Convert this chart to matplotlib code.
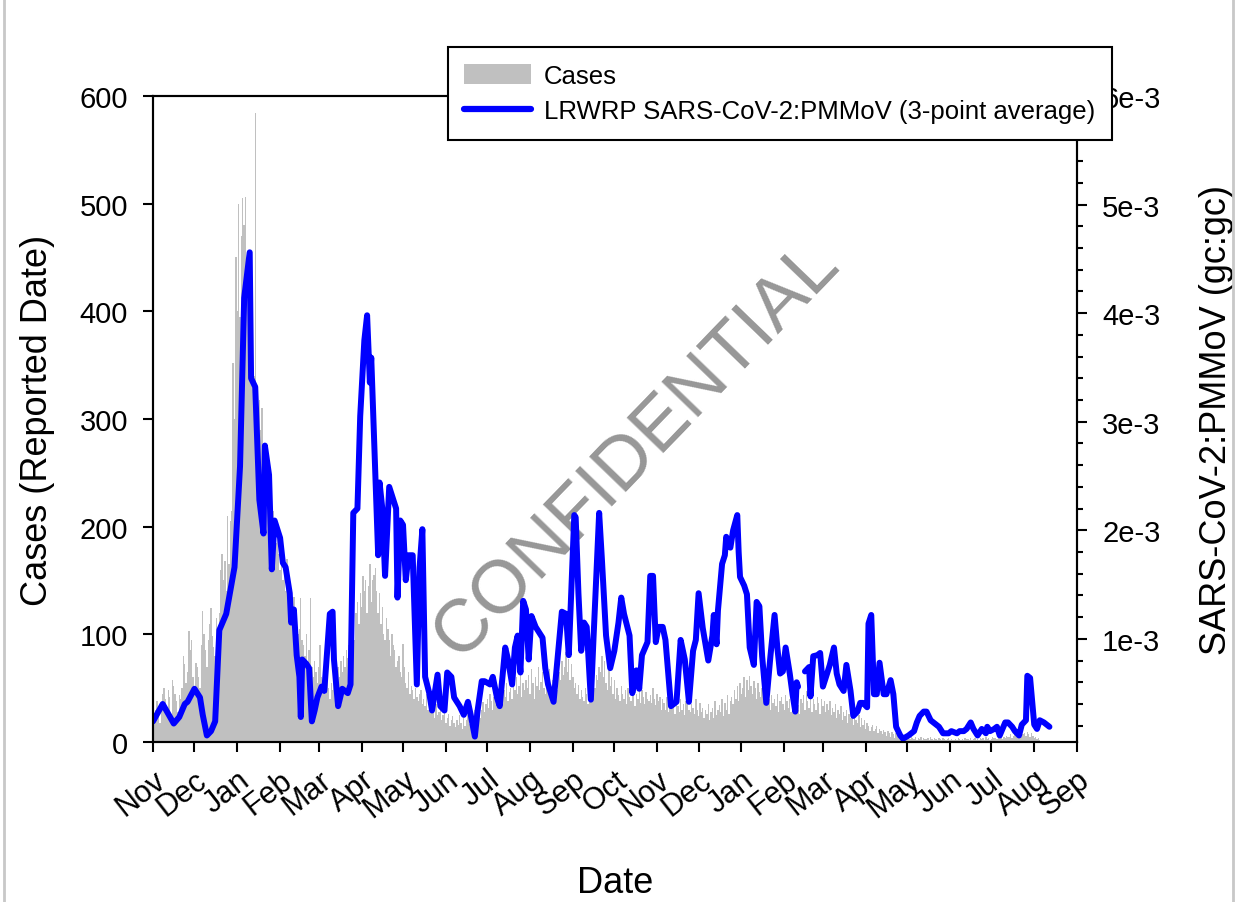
import numpy as np
import matplotlib
matplotlib.use('Agg')
import matplotlib.pyplot as plt
import matplotlib.dates as mdates
from matplotlib.ticker import MultipleLocator, FuncFormatter
from matplotlib.lines import Line2D
from matplotlib.patches import Patch

plt.rcParams['font.family'] = ['Liberation Sans', 'DejaVu Sans']

# daily reported cases, starting 2020-11-01
start = np.datetime64('2020-11-01')
cases = [
    15, 22, 30, 38, 26, 18, 35, 45, 50, 40,
    30, 48, 42, 20, 58, 52, 45, 38, 28, 44,
    40, 50, 80, 72, 55, 65, 103, 85, 95, 60,
    45, 73, 70, 60, 50, 90, 122, 100, 85, 70,
    95, 110, 124, 98, 88, 80, 115, 100, 120, 160,
    175, 150, 168, 140, 210, 165, 205, 215, 352, 300,
    450, 400, 500, 395, 470, 505, 480, 506, 440, 410,
    380, 420, 350, 340, 584, 318, 300, 318, 290, 310,
    255, 240, 230, 250, 220, 235, 200, 215, 190, 185,
    200, 175, 160, 180, 150, 165, 140, 170, 155, 130,
    140, 120, 135, 110, 115, 100, 105, 134, 95, 90,
    80, 100, 75, 85, 134, 70, 60, 75, 65, 55,
    70, 90, 60, 50, 55, 45, 60, 50, 40, 55,
    48, 62, 58, 45, 70, 60, 75, 65, 80, 70,
    85, 78, 90, 123, 100, 105, 95, 120, 130, 110,
    138, 125, 154, 140, 150, 120, 145, 165, 130, 150,
    155, 162, 140, 120, 138, 110, 125, 100, 95, 115,
    105, 95, 80, 100, 90, 85, 70, 75, 80, 65,
    60, 91, 70, 55, 50, 65, 45, 52, 48, 40,
    50, 42, 38, 45, 48, 35, 40, 33, 45, 30,
    35, 28, 37, 30, 22, 35, 25, 28, 33, 20,
    25, 30, 18, 22, 26, 15, 20, 24, 18, 14,
    20, 16, 25, 18, 12, 22, 15, 20, 28, 17,
    22, 25, 18, 30, 20, 27, 35, 22, 30, 37,
    28, 35, 40, 32, 45, 38, 30, 42, 50, 36,
    45, 40, 52, 35, 48, 42, 55, 38, 46, 50,
    40, 55, 48, 60, 45, 52, 65, 42, 55, 48,
    58, 50, 62, 45, 68, 55, 40, 60, 52, 70,
    48, 56, 65, 50, 45, 62, 55, 68, 42, 58,
    60, 52, 70, 48, 65, 58, 75, 62, 70, 84,
    65, 77, 58, 72, 60, 50, 55, 45, 53, 40,
    48, 42, 38, 50, 45, 35, 42, 48, 40, 55,
    50, 62, 58, 70, 65, 80, 60, 75, 55, 48,
    70, 52, 60, 45, 58, 40, 50, 44, 38, 52,
    45, 40, 48, 35, 50, 42, 38, 52, 46, 33,
    45, 40, 50, 36, 48, 42, 35, 46, 40, 38,
    44, 36, 50, 40, 34, 45, 38, 42, 30, 40,
    36, 30, 42, 28, 38, 32, 40, 35, 26, 38,
    33, 28, 40, 30, 35, 25, 38, 42, 30, 28,
    35, 32, 26, 40, 30, 24, 36, 28, 32, 22,
    30, 26, 35, 20, 28, 32, 22, 38, 25, 30,
    34, 28, 40, 24, 36, 30, 44, 26, 38, 42,
    35, 48, 40, 52, 38, 55, 45, 50, 60, 42,
    58, 48, 61, 52, 45, 57, 50, 40, 55, 46,
    42, 50, 38, 45, 35, 48, 40, 30, 44, 36,
    40, 33, 45, 28, 38, 42, 35, 30, 44, 38,
    32, 40, 28, 36, 42, 30, 38, 34, 26, 40,
    36, 44, 30, 47, 38, 32, 45, 28, 40, 35,
    30, 42, 36, 26, 40, 33, 38, 28, 35, 30,
    38, 25, 32, 28, 35, 22, 30, 26, 33, 20,
    28, 24, 30, 18, 26, 22, 28, 16, 24, 20,
    18, 25, 14, 22, 16, 20, 12, 18, 15, 10,
    14, 16, 10, 12, 15, 8, 12, 10, 7, 11,
    9, 6, 10, 8, 5, 9, 7, 4, 8, 6,
    5, 7, 4, 6, 3, 5, 4, 6, 3, 5,
    4, 3, 5, 2, 4, 3, 5, 2, 4, 3,
    3, 4, 2, 5, 3, 2, 4, 3, 2, 4,
    3, 2, 4, 3, 2, 3, 4, 2, 3, 2,
    2, 3, 2, 4, 3, 2, 3, 2, 4, 3,
    3, 2, 4, 2, 3, 4, 2, 3, 2, 4,
    3, 4, 2, 5, 3, 4, 2, 3, 5, 4,
    4, 3, 5, 4, 6, 3, 5, 4, 6, 5,
    5, 7, 4, 6, 8, 5, 7, 6, 9, 5,
    7, 8, 6, 9, 7, 5, 8, 6, 4, 5,
    3, 4, 2,
]

# SARS-CoV-2:PMMoV 3-point average (days since 2020-11-01, value in 1e-3 gc:gc)
ratio_days = [
    0, 7, 15, 19, 23, 25, 30, 34, 36, 39, 42, 45, 48, 53, 59, 63, 66, 70, 71, 74,
    77, 80, 81, 84, 86, 88, 92, 94, 96, 99, 100, 102, 104, 106, 107, 108, 111, 113, 115, 117,
    119, 122, 124, 128, 130, 131, 134, 137, 141, 143, 145, 148, 150, 153, 155, 157, 158, 161, 163, 164,
    166, 168, 171, 173, 176, 177, 179, 181, 183, 185, 188, 191, 193, 195, 197, 200, 202, 206, 208, 211,
    213, 216, 218, 222, 225, 228, 230, 233, 235, 238, 240, 244, 246, 249, 251, 255, 257, 260, 262, 264,
    266, 268, 270, 272, 274, 277, 279, 282, 284, 286, 290, 294, 296, 299, 301, 305, 306, 308, 310, 312,
    314, 317, 319, 323, 325, 328, 331, 334, 337, 339, 341, 345, 347, 350, 352, 354, 358, 360, 362, 364,
    366, 369, 371, 375, 379, 382, 385, 388, 391, 393, 395, 398, 402, 405, 406, 408, 409, 412, 414, 415,
    418, 420, 423, 424, 425, 428, 430, 432, 435, 437, 439, 441, 444, 447, 450, 452, 454, 456, 458, 461,
    463, 465, 466, 467, 470, 472, 475, 476, 478, 481, 483, 485, 487, 490, 493, 495, 497, 500, 502, 505,
    507, 510, 512, 514, 517, 518, 520, 522, 524, 526, 529, 531, 534, 536, 538, 541, 543, 547, 551, 553,
    555, 558, 560, 563, 565, 569, 572, 576, 578, 582, 584, 587, 589, 592, 594, 597, 600, 603, 604, 606,
    609, 611, 613, 615, 617, 619, 622, 624, 627, 629, 632, 633, 635, 638, 640, 642, 645, 647, 649,
]
ratio_vals = [
    0.24, 0.40, 0.22, 0.28, 0.40, 0.42, 0.54, 0.46, 0.30, 0.11, 0.15, 0.24, 1.08, 1.23, 1.66, 2.59, 4.14, 4.56, 3.40, 3.32,
    2.28, 1.97, 2.78, 2.51, 1.64, 2.09, 1.93, 1.70, 1.66, 1.42, 1.15, 1.27, 0.85, 0.65, 0.28, 0.81, 0.77, 0.73, 0.24, 0.34,
    0.46, 0.56, 0.52, 1.23, 1.25, 0.81, 0.38, 0.54, 0.50, 0.58, 2.16, 2.20, 3.05, 3.75, 3.98, 3.36, 3.59, 2.51, 1.77, 2.44,
    2.20, 1.58, 2.40, 2.32, 2.20, 1.38, 2.09, 2.05, 1.54, 1.77, 1.77, 0.58, 1.66, 2.01, 0.65, 0.50, 0.34, 0.67, 0.38, 0.34,
    0.69, 0.65, 0.46, 0.38, 0.30, 0.42, 0.30, 0.10, 0.34, 0.61, 0.61, 0.58, 0.65, 0.46, 0.38, 0.92, 0.81, 0.58, 0.92, 1.03,
    0.69, 1.35, 1.27, 0.81, 1.21, 1.11, 1.07, 1.01, 0.73, 0.58, 0.42, 0.97, 1.25, 1.23, 0.85, 2.14, 2.12, 1.42, 0.89, 1.15,
    1.11, 0.44, 1.03, 2.16, 1.73, 1.03, 0.73, 0.89, 1.15, 1.38, 1.23, 1.03, 0.50, 0.71, 0.54, 0.85, 0.97, 1.58, 1.58, 0.97,
    1.11, 1.11, 0.99, 0.38, 0.42, 0.99, 0.81, 0.42, 0.89, 0.99, 1.42, 1.10, 0.80, 1.03, 1.22, 0.95, 1.26, 1.69, 1.77, 1.94,
    1.84, 2.00, 2.14, 1.80, 1.57, 1.49, 1.41, 0.92, 0.76, 1.34, 1.30, 0.84, 0.41, 0.84, 1.22, 0.92, 0.68, 0.70, 0.92, 0.68,
    0.49, 0.33, 0.60, 0.56, np.nan, 0.70, 0.74, 0.47, 0.84, 0.85, 0.87, 0.56, 0.64, 0.76, 0.92, 0.68, 0.58, 0.52, 0.76, 0.52,
    0.29, 0.33, 0.41, 0.41, 0.37, 1.14, 1.22, 0.49, 0.49, 0.78, 0.49, 0.49, 0.62, 0.49, 0.19, 0.11, 0.08, 0.11, 0.15, 0.23,
    0.29, 0.33, 0.33, 0.25, 0.23, 0.19, 0.13, 0.13, 0.15, 0.13, 0.15, 0.15, 0.17, 0.23, 0.17, 0.11, 0.17, 0.13, 0.19, 0.15,
    0.17, 0.19, 0.11, 0.17, 0.23, 0.23, 0.19, 0.15, 0.11, 0.21, 0.25, 0.66, 0.64, 0.21, 0.17, 0.25, 0.23, 0.21, 0.19,
]

case_dates = start + np.arange(len(cases))
ratio_dates = start + np.array(ratio_days)
ratio = np.array(ratio_vals) * 1e-3

fig = plt.figure(figsize=(12.37, 9.03), dpi=100)
ax = fig.add_axes([0.1237, 0.1772, 0.747, 0.7154])
ax.bar(case_dates, cases, width=1.0, color='#c0c0c0', linewidth=0, zorder=1)
ax.set_xlim(start, np.datetime64('2022-09-01'))
ax.set_ylim(0, 600)
ax.yaxis.set_major_locator(MultipleLocator(100))
ax.xaxis.set_major_locator(mdates.MonthLocator())
ax.xaxis.set_major_formatter(mdates.DateFormatter('%b'))
ax.tick_params(axis='both', direction='out', length=7, width=1.5, labelsize=21, pad=11)
ax.tick_params(axis='x', labelsize=22, pad=9)
plt.setp(ax.get_xticklabels(), rotation=38, ha='right', rotation_mode='anchor')
ax.set_xlabel('Date', fontsize=26, labelpad=30)
ax.set_ylabel('Cases (Reported Date)', fontsize=26, labelpad=18)
for s in ax.spines.values():
    s.set_linewidth(1.5)

ax.text(0.522, 0.454, 'CONFIDENTIAL', transform=ax.transAxes, rotation=46,
        fontsize=54, color='#979797', ha='center', va='center', zorder=5)

ax2 = ax.twinx()
ax2.plot(ratio_dates, ratio, color='#0000ff', lw=4.3,
         solid_joinstyle='round', solid_capstyle='round')
ax2.set_ylim(0.05e-3, 6e-3)
ax2.yaxis.set_major_locator(MultipleLocator(1e-3))
ax2.yaxis.set_minor_locator(MultipleLocator(0.2e-3))
ax2.yaxis.set_major_formatter(FuncFormatter(lambda v, p: f'{int(round(v * 1e3))}e-3'))
ax2.tick_params(axis='y', which='major', direction='out', length=7, width=1.5, labelsize=21, pad=11)
ax2.tick_params(axis='y', which='minor', direction='out', length=4, width=1.5)
ax2.set_ylabel('SARS-CoV-2:PMMoV (gc:gc)', fontsize=26, labelpad=28)
for s in ax2.spines.values():
    s.set_linewidth(1.5)

handles = [Patch(facecolor='#c0c0c0', edgecolor='none'),
           Line2D([], [], color='#0000ff', lw=4.5, solid_capstyle='round')]
leg = fig.legend(handles, ['Cases', 'LRWRP SARS-CoV-2:PMMoV (3-point average)'],
                 loc='upper left', bbox_to_anchor=(0.362, 0.947), fontsize=18.5,
                 frameon=True, fancybox=False, edgecolor='black', framealpha=1,
                 borderpad=0.65, labelspacing=0.45, handlelength=2.6, handleheight=0.85,
                 handletextpad=0.5, borderaxespad=0)
leg.get_frame().set_linewidth(1.5)

for xf in (0.003, 0.997):
    fig.add_artist(Line2D([xf, xf], [0, 1], transform=fig.transFigure, color='#c8c8c8', lw=2))

fig.savefig('out.png', dpi=100)
